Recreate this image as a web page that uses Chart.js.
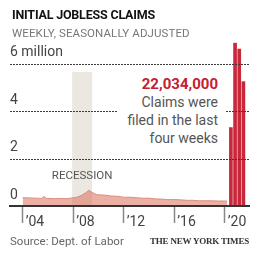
<!DOCTYPE html>
<html>
<head>
<meta charset="utf-8">
<script src="https://cdn.jsdelivr.net/npm/chart.js@4"></script>
<style>
  body { margin: 0; background: #fff; font-family: Roboto, sans-serif; }
  #wrap { position: relative; width: 263px; height: 254px; overflow: hidden; }
  canvas { position: absolute; left: 0; top: 0; }
  .txt { position: absolute; white-space: nowrap; }
  #title { left: 12px; top: 7px; font-size: 12.5px; font-weight: 700; color: #121212; letter-spacing: -0.2px; }
  #subtitle { left: 12px; top: 26px; font-size: 11.5px; color: #777; letter-spacing: 0.1px; }
  #note { left: 117px; top: 75px; width: 101px; padding-right: 7px; background: #fff; text-align: right;
          font-size: 14px; line-height: 18px; color: #555; }
  #note b { color: #c5202f; font-size: 15px; }
  #source { left: 10px; top: 234px; font-size: 11.5px; color: #666; }
  #nyt { right: 14px; top: 236px; font-family: "Liberation Serif", serif; font-weight: 700; font-size: 9px; color: #333; letter-spacing: -0.2px; }
</style>
</head>
<body>
<div id="wrap">
  <canvas id="chart" width="263" height="254"></canvas>
  <div class="txt" id="title">INITIAL JOBLESS CLAIMS</div>
  <div class="txt" id="subtitle">WEEKLY, SEASONALLY ADJUSTED</div>
  <div class="txt" id="note"></div>
  <div class="txt" id="source">Source: Dept. of Labor</div>
  <div class="txt" id="nyt">THE NEW YORK TIMES</div>
</div>
<script>
// weekly claims, millions
const areaYears = [2004.0, 2004.5, 2005.0, 2005.5, 2005.7, 2005.9, 2006.5, 2007.0, 2007.5, 2007.9,
  2008.3, 2008.7, 2009.0, 2009.25, 2009.5, 2009.9, 2010.5, 2011.0, 2011.5, 2012.0, 2012.5,
  2013.0, 2013.5, 2014.0, 2014.5, 2015.0, 2015.5, 2016.0, 2016.5, 2017.0, 2017.5, 2018.0,
  2018.5, 2019.0, 2019.5, 2020.0, 2020.2];
const areaClaims = [0.35, 0.34, 0.33, 0.32, 0.40, 0.32, 0.31, 0.32, 0.31, 0.34,
  0.37, 0.46, 0.56, 0.66, 0.57, 0.47, 0.46, 0.42, 0.41, 0.37, 0.37,
  0.35, 0.33, 0.33, 0.30, 0.29, 0.27, 0.27, 0.26, 0.24, 0.24, 0.22,
  0.22, 0.22, 0.21, 0.21, 0.21];

// last four weeks
const recentWeeks = ['Mar 21', 'Mar 28', 'Apr 4', 'Apr 11'];
const recentClaims = [3.307, 6.867, 6.615, 5.245];

const yearTicks = [2004, 2008, 2012, 2016, 2020];
const claimTicks = [0, 2, 4, 6];
const recession = [2007.92, 2009.5];

const total = recentClaims.reduce((a, b) => a + b, 0);
document.getElementById('note').innerHTML =
  '<b>' + Math.round(total * 1e6).toLocaleString('en-US') + '</b><br>Claims were<br>filed in the last<br>four weeks';

// recession band + label, dotted gridlines on top of the data
const extras = {
  id: 'extras',
  beforeDatasetsDraw(chart) {
    const { ctx, chartArea, scales } = chart;
    const x1 = scales.x.getPixelForValue(recession[0]);
    const x2 = scales.x.getPixelForValue(recession[1]);
    const top = scales.y.getPixelForValue(5.65);
    ctx.save();
    ctx.fillStyle = '#ebe8e2';
    ctx.fillRect(x1, top, x2 - x1, chartArea.bottom - top);
    ctx.restore();
  },
  afterDatasetsDraw(chart) {
    const { ctx, chartArea, scales } = chart;
    ctx.save();
    // dotted gridlines: 2px dash, 1px gap
    ctx.fillStyle = '#3a3a3a';
    claimTicks.filter(v => v > 0).forEach(v => {
      const y = Math.round(scales.y.getPixelForValue(v));
      for (let x = chartArea.left; x < chartArea.right; x += 3) {
        ctx.fillRect(x, y, 2, 1);
      }
    });
    // baseline
    ctx.fillStyle = '#333';
    ctx.fillRect(chartArea.left, Math.round(chartArea.bottom) - 1, chartArea.right - chartArea.left, 2);
    const xc = scales.x.getPixelForValue((recession[0] + recession[1]) / 2);
    ctx.font = '11.5px Roboto';
    ctx.fillStyle = '#555';
    ctx.textAlign = 'center';
    ctx.textBaseline = 'middle';
    ctx.fillText('RECESSION', xc, scales.y.getPixelForValue(1.25));
    ctx.restore();
  }
};

new Chart(document.getElementById('chart'), {
  data: {
    datasets: [{
      type: 'line',
      data: areaYears.map((x, i) => ({ x: x, y: areaClaims[i] })),
      xAxisID: 'x',
      fill: 'origin',
      backgroundColor: 'rgba(220, 110, 90, 0.55)',
      borderColor: 'rgb(222, 140, 125)',
      borderWidth: 1,
      pointRadius: 0,
      tension: 0
    }, {
      type: 'bar',
      label: 'Last four weeks',
      data: recentClaims.map((y, i) => ({ x: i + 1, y: y })),
      xAxisID: 'xb',
      backgroundColor: '#c9283a',
      barThickness: 3,
      borderWidth: 0
    }]
  },
  options: {
    responsive: false,
    animation: false,
    devicePixelRatio: 1,
    layout: { padding: { left: 10, right: 14, top: 40, bottom: 0 } },
    plugins: { legend: { display: false }, tooltip: { enabled: false } },
    scales: {
      x: {
        type: 'linear',
        min: 2003,
        max: 2021.92,
        afterBuildTicks: axis => { axis.ticks = yearTicks.map(v => ({ value: v })); },
        afterFit: axis => { axis.height = 48; },
        grid: { drawOnChartArea: false, drawTicks: true, tickLength: 17, tickWidth: 1.5, color: '#888' },
        border: { display: true, color: '#333', width: 2 },
        ticks: {
          align: 'start',
          labelOffset: 3,
          padding: -9,
          maxRotation: 0,
          autoSkip: false,
          color: '#444',
          font: { family: 'Roboto', size: 14 },
          callback: v => '\u2019' + String(v).slice(2)
        }
      },
      xb: {
        type: 'linear',
        display: false,
        offset: false,
        min: -51.6,
        max: 5.7
      },
      y: {
        min: 0,
        max: 7,
        afterBuildTicks: axis => { axis.ticks = claimTicks.map(v => ({ value: v })); },
        afterFit: axis => { axis.width = 0; },
        grid: { display: false },
        border: { display: false },
        ticks: {
          mirror: true,
          padding: 0,
          labelOffset: -11,
          color: '#444',
          font: { family: 'Roboto', size: 14 },
          callback: v => v === 6 ? '6 million' : String(v)
        }
      }
    }
  },
  plugins: [extras]
});
</script>
</body>
</html>
